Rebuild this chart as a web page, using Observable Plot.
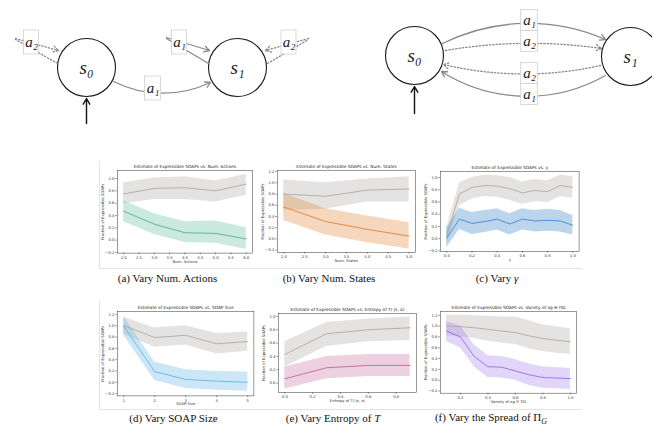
<!DOCTYPE html>
<html><head><meta charset="utf-8">
<script src="https://cdn.jsdelivr.net/npm/d3@7"></script>
<script src="https://cdn.jsdelivr.net/npm/@observablehq/plot@0.6"></script>
<style>
body{margin:0;background:#fff;}
#root{position:relative;width:652px;height:429px;overflow:hidden;background:#fff;}
.abs{position:absolute;}
.cap{position:absolute;font-family:"Liberation Serif","Times New Roman",serif;font-size:11px;color:#111;white-space:nowrap;transform:translateX(-50%);line-height:12px;}
.rule{position:absolute;background:#e3e3e3;}
</style></head><body><div id="root"></div><script>
// ---------- data ----------
// (a) vary number of actions
const actionsX = [2, 3, 4, 5, 6];
const actionsGrey = [0.75, 0.84, 0.85, 0.80, 0.91];
const actionsGreyLo = [0.59, 0.66, 0.66, 0.62, 0.73];
const actionsGreyHi = [0.93, 1.01, 1.03, 0.96, 1.07];
const actionsMean = [0.47, 0.26, 0.12, 0.11, 0.02];
const actionsLo = [0.30, 0.09, -0.04, -0.05, -0.15];
const actionsHi = [0.64, 0.43, 0.30, 0.31, 0.20];
// (b) vary number of states
const statesX = [2, 3, 4, 5];
const statesGrey = [0.80, 0.76, 0.87, 0.89];
const statesGreyLo = [0.51, 0.53, 0.66, 0.66];
const statesGreyHi = [1.05, 1.00, 1.07, 1.11];
const statesMean = [0.57, 0.31, 0.17, 0.05];
const statesLo = [0.33, 0.07, -0.07, -0.18];
const statesHi = [0.81, 0.54, 0.41, 0.29];
// (c) vary gamma
const gammaX = [0, 0.1, 0.2, 0.3, 0.4, 0.5, 0.6, 0.7, 0.8, 0.9, 1.0];
const gammaGrey = [0.05, 0.73, 0.84, 0.87, 0.86, 0.82, 0.75, 0.79, 0.77, 0.87, 0.84];
const gammaGreyLo = [-0.08, 0.54, 0.65, 0.69, 0.68, 0.63, 0.56, 0.61, 0.59, 0.69, 0.66];
const gammaGreyHi = [0.18, 0.91, 1.00, 1.04, 1.03, 1.00, 0.93, 0.97, 0.95, 1.04, 1.02];
const gammaMean = [0.01, 0.32, 0.25, 0.28, 0.32, 0.24, 0.32, 0.29, 0.30, 0.29, 0.22];
const gammaLo = [-0.15, 0.15, 0.07, 0.10, 0.14, 0.06, 0.14, 0.11, 0.12, 0.11, 0.06];
const gammaHi = [0.17, 0.50, 0.43, 0.46, 0.49, 0.41, 0.49, 0.46, 0.48, 0.46, 0.38];
// (d) vary SOAP size
const sizeX = [1, 2, 3, 4, 5];
const sizeGrey = [1.00, 0.79, 0.83, 0.68, 0.72];
const sizeGreyLo = [0.85, 0.62, 0.66, 0.50, 0.55];
const sizeGreyHi = [1.15, 0.96, 1.00, 0.86, 0.89];
const sizeMean = [0.99, 0.19, 0.05, 0.02, 0.00];
const sizeLo = [0.83, 0.03, -0.11, -0.14, -0.16];
const sizeHi = [1.16, 0.36, 0.22, 0.19, 0.18];
// (e) vary entropy of T
const entropyX = [0, 0.3, 0.6, 0.9];
const entropyGrey = [0.43, 0.74, 0.80, 0.83];
const entropyGreyLo = [0.24, 0.55, 0.62, 0.64];
const entropyGreyHi = [0.62, 0.91, 0.96, 0.99];
const entropyMean = [0.065, 0.23, 0.265, 0.265];
const entropyLo = [-0.09, 0.065, 0.10, 0.10];
const entropyHi = [0.24, 0.40, 0.43, 0.43];
// (f) vary spread of Pi_G
const varietyX = [0.1, 0.2, 0.3, 0.4, 0.5, 0.6, 0.7, 0.8, 0.9, 1.0];
const varietyGrey = [1.00, 0.99, 0.97, 0.94, 0.91, 0.88, 0.82, 0.77, 0.74, 0.71];
const varietyGreyLo = [0.82, 0.80, 0.77, 0.72, 0.69, 0.66, 0.58, 0.53, 0.50, 0.48];
const varietyGreyHi = [1.20, 1.20, 1.19, 1.18, 1.17, 1.17, 1.10, 1.02, 0.99, 0.95];
const varietyMean = [0.91, 0.80, 0.44, 0.25, 0.24, 0.17, 0.10, 0.05, 0.04, 0.03];
const varietyLo = [0.71, 0.60, 0.25, 0.05, 0.04, 0.00, -0.10, -0.15, -0.16, -0.17];
const varietyHi = [1.08, 1.00, 0.65, 0.45, 0.44, 0.38, 0.30, 0.25, 0.23, 0.22];

// diagram data (graph layout)
const nodes = [
  {label: "s₀", x: 86, y: 67}, {label: "s₁", x: 237, y: 67},
  {label: "s₀", x: 414, y: 55}, {label: "s₁", x: 630, y: 56}
];
const starts = [{x1: 86, y1: 123, x2: 86, y2: 98}, {x1: 414, y1: 113, x2: 414, y2: 86}];
const edges = [
  {x1: 113, y1: 81, x2: 210, y2: 82, bend: -26, dashed: false, head: true},
  {x1: 442, y1: 43, x2: 605, y2: 39, bend: 25, dashed: false, head: true},
  {x1: 445, y1: 50, x2: 601, y2: 48, bend: 9, dashed: true, head: true},
  {x1: 600, y1: 65, x2: 443, y2: 64, bend: 13, dashed: true, head: true},
  {x1: 605, y1: 75, x2: 441, y2: 71, bend: 31, dashed: false, head: true},
  // self loops: out segment then return segment
  {x1: 57, y1: 63, x2: 15, y2: 39, bend: 0, dashed: true, head: false},
  {x1: 15, y1: 38, x2: 58, y2: 50, bend: 0, dashed: true, head: true},
  {x1: 208, y1: 63, x2: 166, y2: 38, bend: 0, dashed: false, head: false},
  {x1: 166, y1: 37, x2: 209, y2: 50, bend: 0, dashed: false, head: true},
  {x1: 267, y1: 63, x2: 308, y2: 39, bend: 0, dashed: true, head: false},
  {x1: 308, y1: 38, x2: 265, y2: 50, bend: 0, dashed: true, head: true}
];
const edgeLabels = [
  {text: "a₂", x: 31, y: 42, w: 15, h: 24}, {text: "a₁", x: 179, y: 42, w: 15, h: 24},
  {text: "a₂", x: 288.5, y: 42, w: 15, h: 24}, {text: "a₁", x: 152.5, y: 88, w: 16, h: 24},
  {text: "a₁", x: 529, y: 20, w: 16.6, h: 21}, {text: "a₂", x: 529, y: 41, w: 16.6, h: 21},
  {text: "a₂", x: 529, y: 73, w: 16.6, h: 21}, {text: "a₁", x: 529, y: 94, w: 16.6, h: 21}
];

// ---------- layout ----------
const root = document.getElementById("root");
function place(el, left, top) {
  const d = document.createElement("div");
  d.className = "abs"; d.style.left = left + "px"; d.style.top = top + "px";
  d.appendChild(el); root.appendChild(d);
}

// diagrams
const diagram = Plot.plot({
  width: 652, height: 150, margin: 0,
  x: {domain: [0, 652], range: [0, 652]},
  y: {domain: [0, 150], range: [0, 150]},
  axis: null,
  style: {background: "transparent", overflow: "visible"},
  marks: [
    Plot.dot(nodes, {x: "x", y: "y", r: 29, fill: "white", stroke: "#1a1a1a", strokeWidth: 1.1}),
    ...edges.map(e => Plot.arrow([e], {
      x1: "x1", y1: "y1", x2: "x2", y2: "y2", bend: e.bend,
      stroke: "#8a8a8a", strokeWidth: 1.3,
      strokeDasharray: e.dashed ? "1.4,2" : null,
      headLength: e.head ? 7 : 0
    })),
    Plot.arrow(starts, {x1: "x1", y1: "y1", x2: "x2", y2: "y2", stroke: "#111", strokeWidth: 1.4, headLength: 7}),
    Plot.rect(edgeLabels, {x1: d => d.x - d.w / 2, x2: d => d.x + d.w / 2, y1: d => d.y - d.h / 2, y2: d => d.y + d.h / 2,
      fill: "white", stroke: "#cfcfcf", strokeWidth: 0.8}),
    Plot.text(edgeLabels, {x: "x", y: "y", text: "text", fontFamily: "Liberation Serif", fontStyle: "italic", fontSize: 15, fill: "#222"}),
    Plot.text(nodes, {x: "x", y: "y", text: "label", fontFamily: "Liberation Serif", fontStyle: "italic", fontSize: 19, fill: "#222"})
  ]
});
place(diagram, 0, 0);

// rules (image borders)
function rule(l, t, w, h) { const d = document.createElement("div"); d.className = "rule";
  d.style.left = l + "px"; d.style.top = t + "px"; d.style.width = w + "px"; d.style.height = h + "px"; root.appendChild(d); }
rule(99, 161, 1, 107); rule(99, 268, 483, 1);
rule(99, 301, 1, 108); rule(99, 409, 483, 1);

const GREY_LINE = "#a6a29e", GREY_FILL = "#a9a29a";
function panel(p) {
  const ml = 28, mr = 4, mt = 12, mb = 16;
  const width = (p.fr - p.fl) + ml + mr, height = (p.fb - p.ft) + mt + mb;
  const rows = p.x.map((x, i) => ({x, g: p.g[i], gLo: p.gLo[i], gHi: p.gHi[i], m: p.m[i], lo: p.lo[i], hi: p.hi[i]}));
  const chart = Plot.plot({
    width, height, marginLeft: ml, marginRight: mr, marginTop: mt, marginBottom: mb,
    x: {domain: p.xDomain}, y: {domain: p.yDomain},
    style: {fontFamily: "DejaVu Sans", fontSize: "3.8px", background: "transparent", overflow: "visible", color: "#333"},
    marks: [
      Plot.areaY(rows, {x: "x", y1: "gLo", y2: "gHi", fill: GREY_FILL, fillOpacity: 0.3}),
      Plot.areaY(rows, {x: "x", y1: "lo", y2: "hi", fill: p.fill, fillOpacity: p.op}),
      Plot.lineY(rows, {x: "x", y: "g", stroke: GREY_LINE, strokeWidth: 0.8}),
      Plot.lineY(rows, {x: "x", y: "m", stroke: p.line, strokeWidth: 0.8}),
      Plot.frame({stroke: "#333", strokeWidth: 0.5}),
      Plot.axisX({ticks: p.xTicks, tickFormat: p.xFmt, tickSize: 1.8, tickPadding: 1.2, fontSize: 3.8, strokeWidth: 0.5,
        fill: "#333", stroke: "#333",
        label: p.xLabel, labelAnchor: "center", labelArrow: "none", labelOffset: 9.5}),
      Plot.axisY({ticks: p.yTicks, tickFormat: d3.format(".1f"), tickSize: 1.8, tickPadding: 1.2, fontSize: 3.8, strokeWidth: 0.5,
        fill: "#333", stroke: "#333",
        label: "Fraction of Expressible SOAPs", labelAnchor: "center", labelArrow: "none", labelOffset: 16.5}),
      Plot.text([p.title], {frameAnchor: "top", dy: -2, lineAnchor: "bottom", fontSize: 4.3, fill: "#222"})
    ]
  });
  place(chart, p.fl - ml, p.ft - mt);
}
const tk = (a, b, s) => d3.range(a, b + s / 2, s).map(v => +v.toFixed(2));

panel({fl: 117.2, fr: 252.1, ft: 170.3, fb: 252.9, xDomain: [1.8, 6.2], yDomain: [-0.21, 1.13],
  xTicks: tk(2, 6, 0.5), xFmt: d3.format(".1f"), yTicks: tk(-0.2, 1.0, 0.2),
  title: "Estimate of Expressible SOAPs vs. Num. Actions", xLabel: "Num. Actions",
  x: actionsX, g: actionsGrey, gLo: actionsGreyLo, gHi: actionsGreyHi, m: actionsMean, lo: actionsLo, hi: actionsHi,
  fill: "#66c2a5", op: 0.35, line: "#4da586"});
panel({fl: 277.0, fr: 414.9, ft: 169.6, fb: 251.5, xDomain: [1.85, 5.15], yDomain: [-0.24, 1.22],
  xTicks: tk(2, 5, 0.5), xFmt: d3.format(".1f"), yTicks: tk(-0.2, 1.2, 0.2),
  title: "Estimate of Expressible SOAPs vs. Num. States", xLabel: "Num. States",
  x: statesX, g: statesGrey, gLo: statesGreyLo, gHi: statesGreyHi, m: statesMean, lo: statesLo, hi: statesHi,
  fill: "#e08b3e", op: 0.35, line: "#d9782f"});
panel({fl: 440.2, fr: 578.8, ft: 170.6, fb: 250.6, xDomain: [-0.05, 1.05], yDomain: [-0.21, 1.10],
  xTicks: tk(0, 1, 0.2), xFmt: d3.format(".1f"), yTicks: tk(-0.2, 1.0, 0.2),
  title: "Estimate of Expressible SOAPs vs. γ", xLabel: "γ",
  x: gammaX, g: gammaGrey, gLo: gammaGreyLo, gHi: gammaGreyHi, m: gammaMean, lo: gammaLo, hi: gammaHi,
  fill: "#3b87cc", op: 0.35, line: "#3a80c2"});
panel({fl: 117.1, fr: 253.5, ft: 311.2, fb: 395.6, xDomain: [0.8, 5.2], yDomain: [-0.24, 1.25],
  xTicks: tk(1, 5, 1), xFmt: d3.format("d"), yTicks: tk(-0.2, 1.2, 0.2),
  title: "Estimate of Expressible SOAPs vs. SOAP Size", xLabel: "SOAP Size",
  x: sizeX, g: sizeGrey, gLo: sizeGreyLo, gHi: sizeGreyHi, m: sizeMean, lo: sizeLo, hi: sizeHi,
  fill: "#6bb6e6", op: 0.35, line: "#5caee0"});
panel({fl: 278.0, fr: 415.9, ft: 313.1, fb: 392.3, xDomain: [-0.045, 0.945], yDomain: [-0.144, 1.044],
  xTicks: tk(0, 0.8, 0.2), xFmt: d3.format(".1f"), yTicks: tk(0, 1.0, 0.2),
  title: "Estimate of Expressible SOAPs vs. Entropy of T(·|s, a)", xLabel: "Entropy of T(·|s, a)",
  x: entropyX, g: entropyGrey, gLo: entropyGreyLo, gHi: entropyGreyHi, m: entropyMean, lo: entropyLo, hi: entropyHi,
  fill: "#c5679a", op: 0.3, line: "#b65d8d"});
panel({fl: 440.1, fr: 576.2, ft: 310.5, fb: 392.2, xDomain: [0.055, 1.045], yDomain: [-0.24, 1.27],
  xTicks: tk(0.2, 1.0, 0.2), xFmt: d3.format(".1f"), yTicks: tk(-0.2, 1.2, 0.2),
  title: "Estimate of Expressible SOAPs vs. Variety of πg ∈ ΠG", xLabel: "Variety of πg ∈ ΠG",
  x: varietyX, g: varietyGrey, gLo: varietyGreyLo, gHi: varietyGreyHi, m: varietyMean, lo: varietyLo, hi: varietyHi,
  fill: "#9a75ee", op: 0.3, line: "#8c5fe8"});

// captions
function caption(html, cx, top) { const d = document.createElement("div"); d.className = "cap";
  d.style.left = cx + "px"; d.style.top = top + "px"; d.innerHTML = html; root.appendChild(d); }
caption("(a) Vary Num. Actions", 167.5, 272);
caption("(b) Vary Num. States", 329, 272);
caption("(c) Vary <i>γ</i>", 497, 272);
caption("(d) Vary SOAP Size", 173.5, 412);
caption("(e) Vary Entropy of <i>T</i>", 333, 412);
caption("(f) Vary the Spread of Π<sub style=\"font-size:8px;font-style:italic\">G</sub>", 491, 411);
</script></body></html>
